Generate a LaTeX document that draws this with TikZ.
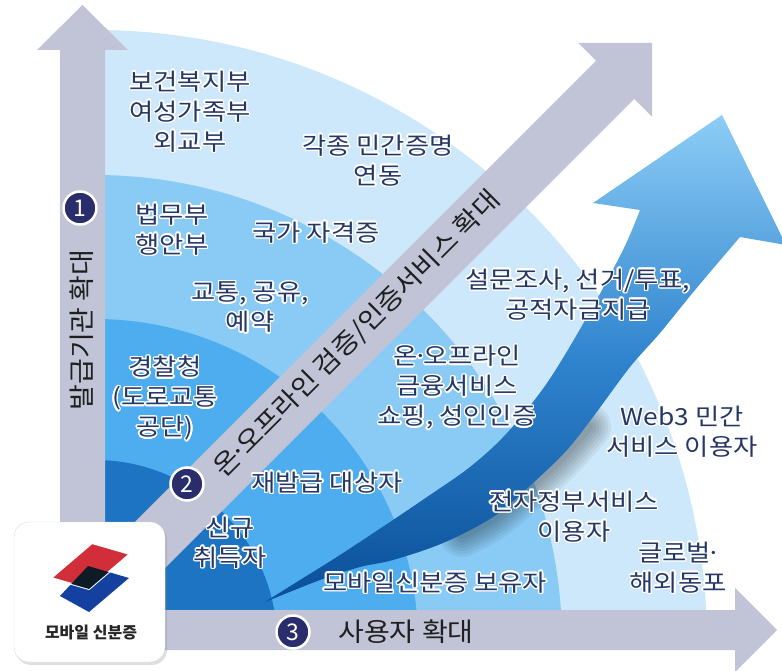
\documentclass[tikz,border=0pt]{standalone}
\usepackage{fontspec}
\setmainfont{Noto Sans CJK KR}
\newfontfamily\lblfont[FakeStretch=1.12]{Noto Sans CJK KR}
\newfontfamily\axfont[FakeStretch=1.08]{Noto Sans CJK KR}
\usepackage[copies]{contour}
\usetikzlibrary{shadows}

\contourlength{1.4pt}
\contournumber{16}

\definecolor{bandA}{HTML}{CCE8FA}
\definecolor{bandB}{HTML}{8ACBF6}
\definecolor{bandC}{HTML}{4DADEE}
\definecolor{bandD}{HTML}{1C74C2}
\definecolor{swTop}{HTML}{8DCDF6}
\definecolor{swMid}{HTML}{2F84CE}
\definecolor{swLow}{HTML}{0A4E98}
\definecolor{axisgray}{HTML}{C0C4D6}
\definecolor{navytxt}{HTML}{263766}
\definecolor{numnavy}{HTML}{292D6C}
\definecolor{cardred}{HTML}{D12E3A}
\definecolor{cardblue}{HTML}{1440A0}
\definecolor{cardblack}{HTML}{0D1B26}

% tight middle dot, white halo per label line
\newcommand{\mdot}{\kern-.18em·\kern-.18em}
\newcommand{\gl}[1]{\contour{white}{#1}}

\begin{document}
\begin{tikzpicture}[x=1pt, y=1pt,
  lbl/.style={text=navytxt, align=center, inner sep=0pt,
              font=\lblfont\fontsize{23.5}{30}\selectfont},
  axlbl/.style={text=black!88, inner sep=0pt, font=\axfont\fontsize{26}{26}\selectfont},
  num/.style={circle, fill=numnavy, draw=white, line width=2.5pt, text=white,
              minimum size=33pt, inner sep=0pt, font=\fontsize{23}{23}\selectfont}
]
\useasboundingbox (0,0) rectangle (782,670);
\coordinate (o) at (95,28);

% quarter bands
\foreach \rad/\col in {612/bandA,467/bandB,323/bandC,182/bandD}
  \fill[\col] (o) -- ++(\rad pt,0) arc[start angle=0, end angle=90, radius=\rad pt] -- cycle;

% soft shadow under the rising arrow
\foreach \w in {46,40,34,28,22,16,10}
  \draw[black, opacity=0.05, line width=\w pt, line cap=round]
    plot[smooth] coordinates {(588,243) (560,212) (533,187) (493,153) (462,136)};

% rising arrow
\shade[top color=swTop, bottom color=swLow, middle color=swMid]
  (265,68) -- plot[smooth, tension=0.55] coordinates
    {(265,68) (300,90) (340,115) (390,148) (427,173) (470,203) (507,237)
     (547,287) (587,353) (623,420) (640,460)}
  -- (593,467) -- (722,555) -- (786,425) -- (740,433)
  -- plot[smooth, tension=0.55] coordinates
    {(740,433) (695,380) (660,337) (630,303) (593,253) (567,220) (533,187)
     (493,153) (443,127) (393,110) (360,103) (320,90) (265,68)}
  -- cycle;

% gray axes
\fill[axisgray] (60,20) -- (60,620) -- (37,620) -- (82.5,665) -- (128,620)
  -- (105,620) -- (105,20) -- cycle;
\fill[axisgray] (60,20) -- (735,20) -- (735,-2) -- (777,40) -- (735,82)
  -- (735,60) -- (60,60) -- cycle;
\fill[axisgray] (119.1,55.9) -- (634.3,571.1) -- (652,553.4) -- (652,627)
  -- (578.4,627) -- (596.1,609.3) -- (80.9,94.1) -- cycle;

\node[axlbl, rotate=90] (issuer) at (82,340) {발급기관 확대};
\node[axlbl] (users) at (406,38) {사용자 확대};
\node[axlbl, rotate=45] (verify) at (357,336) {온\mdot 오프라인 검증/인증서비스 확대};

\node[num] (n1) at (80,462) {1};
\node[num] (n2) at (187,186) {2};
\node[num] (n3) at (293,38) {3};

% labels in the bands
\node[lbl] (welfare) at (190,558) {\gl{보건복지부}\\\gl{여성가족부}\\\gl{외교부}};
\node[lbl] (private) at (378,509) {\gl{각종 민간증명}\\\gl{연동}};
\node[lbl] (justice) at (172,440) {\gl{법무부}\\\gl{행안부}};
\node[lbl] (license) at (316,437) {\gl{국가 자격증}};
\node[lbl] (traffic) at (250,362) {\gl{교통, 공유,}\\\gl{예약}};
\node[lbl] (police) at (165,271) {\gl{경찰청}\\\gl{(도로교통}\\\gl{공단)}};
\node[lbl] (reissue) at (327,187) {\gl{재발급 대상자}};
\node[lbl] (newid) at (230,127) {\gl{신규}\\\gl{취득자}};
\node[lbl] (holder) at (435,87) {\gl{모바일신분증 보유자}};
\node[lbl] (survey) at (578,375) {\gl{설문조사, 선거/투표,}\\\gl{공적자금지급}};
\node[lbl] (finance) at (457,282) {\gl{온\mdot 오프라인}\\\gl{금융서비스}\\\gl{쇼핑, 성인인증}};
\node[lbl] (webthree) at (682,238) {\gl{Web3 민간}\\\gl{서비스 이용자}};
\node[lbl] (egov) at (574,153) {\gl{전자정부서비스}\\\gl{이용자}};
\node[lbl] (global) at (678,102) {\gl{글로벌\mdot}\\\gl{해외동포}};

% app icon
\node[draw=black!15, fill=white, rounded corners=15pt, minimum width=151pt,
      minimum height=140pt,
      drop shadow={opacity=0.25, shadow xshift=2pt, shadow yshift=-3pt}]
  (logo) at (89.5,78) {};
\fill[cardblue] (88,104) -- (129,92) -- (89,58) -- (60,74) -- cycle;
\fill[cardred, draw=white, line width=2pt, line join=round]
  (51,92) -- (92,127) -- (130,116) -- (89,81) -- cycle;
\begin{scope}
  \clip (51,92) -- (92,127) -- (130,116) -- (89,81) -- cycle;
  \fill[cardblack] (88,104) -- (129,92) -- (89,58) -- (60,74) -- cycle;
\end{scope}
\node[font=\bfseries\fontsize{16}{16}\selectfont, text=black!85, inner sep=0pt]
  (logotxt) at (91,37) {모바일 신분증};
\end{tikzpicture}
\end{document}
